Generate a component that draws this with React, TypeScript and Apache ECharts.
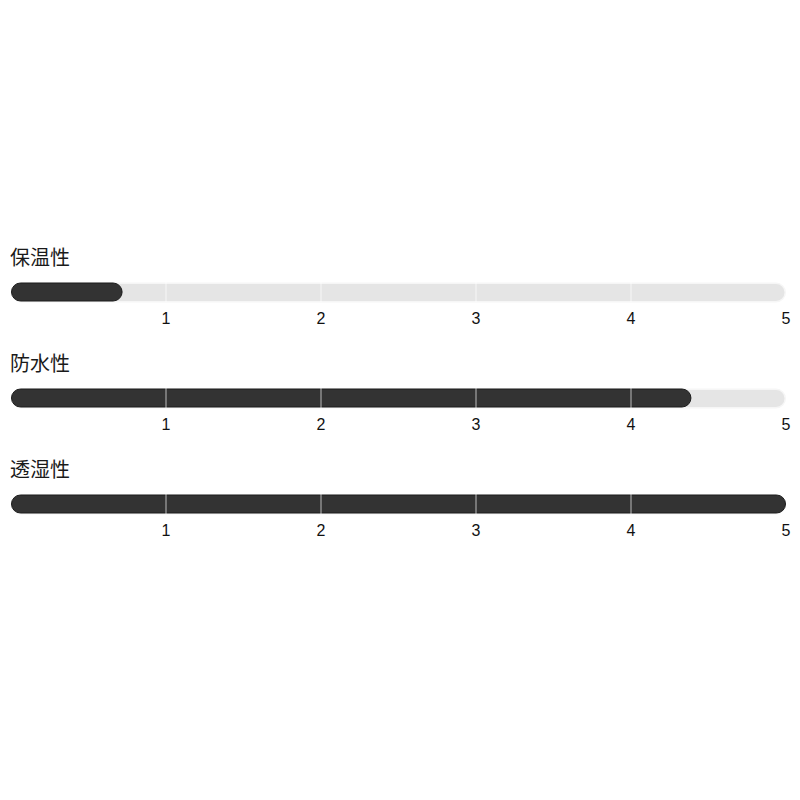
import { useEffect, useRef } from 'react';
import * as echarts from 'echarts';

// rating rows
const categories = ['保温性', '防水性', '透湿性'];
const scores = [0.72, 4.39, 5];
const maxScore = 5;
const tickLabels = ['', '1', '2', '3', '4', '5'];
const tickMarks = [1, 2, 3, 4];

const ROW_CENTERS = [292, 398, 504];
const BAR_H = 20;

export default function App() {
  const chartRef = useRef<HTMLDivElement>(null);

  useEffect(() => {
    if (!chartRef.current) return;
    const chart = echarts.init(chartRef.current, null, { renderer: 'svg' });

    const grids = categories.map((_, i) => ({
      left: 11,
      right: 14,
      top: ROW_CENTERS[i] - BAR_H / 2,
      height: BAR_H,
    }));

    const titles = categories.map((name, i) => ({
      text: name,
      left: 10,
      top: ROW_CENTERS[i] - 46,
      padding: 0,
      textStyle: {
        fontSize: 20,
        fontWeight: 'normal' as const,
        color: '#1a1a1a',
        fontFamily: '"Noto Sans CJK JP", "Noto Sans", sans-serif',
      },
    }));

    const xAxes = categories.map((_, i) => ({
      type: 'value' as const,
      gridIndex: i,
      min: 0,
      max: maxScore,
      interval: 1,
      axisLine: { show: false },
      axisTick: { show: false },
      splitLine: { show: false },
      axisLabel: {
        margin: 8,
        fontSize: 16,
        color: '#111',
        fontFamily: '"Liberation Sans", Arial, sans-serif',
        formatter: (v: number) => tickLabels[Math.round(v)] ?? '',
      },
    }));

    const yAxes = categories.map((name, i) => ({
      type: 'category' as const,
      gridIndex: i,
      data: [name],
      show: false,
    }));

    const series: any[] = [];
    categories.forEach((_, i) => {
      // background track
      series.push({
        type: 'bar',
        xAxisIndex: i,
        yAxisIndex: i,
        data: [maxScore],
        barWidth: BAR_H,
        silent: true,
        z: 1,
        itemStyle: {
          color: '#e5e5e5',
          borderColor: '#f6f6f6',
          borderWidth: 1.5,
          borderRadius: BAR_H / 2,
        },
      });
      // score bar
      series.push({
        type: 'bar',
        xAxisIndex: i,
        yAxisIndex: i,
        data: [scores[i]],
        barWidth: BAR_H - 1,
        barGap: '-100%',
        z: 2,
        itemStyle: {
          color: '#333333',
          borderColor: '#1c1c1c',
          borderWidth: 1,
          borderRadius: BAR_H / 2,
        },
        markLine: {
          silent: true,
          symbol: 'none',
          z: 5,
          label: { show: false },
          lineStyle: { color: 'rgba(255,255,255,0.45)', width: 1.5, type: 'solid' },
          data: tickMarks.map(t => ({ xAxis: t })),
        },
      });
    });

    chart.setOption({
      animation: false,
      backgroundColor: '#ffffff',
      title: titles,
      grid: grids,
      xAxis: xAxes,
      yAxis: yAxes,
      series,
    });

    return () => {
      chart.dispose();
    };
  }, []);

  return (
    <div
      ref={chartRef}
      style={{ position: 'fixed', left: 0, top: 0, width: 800, height: 800 }}
    />
  );
}
